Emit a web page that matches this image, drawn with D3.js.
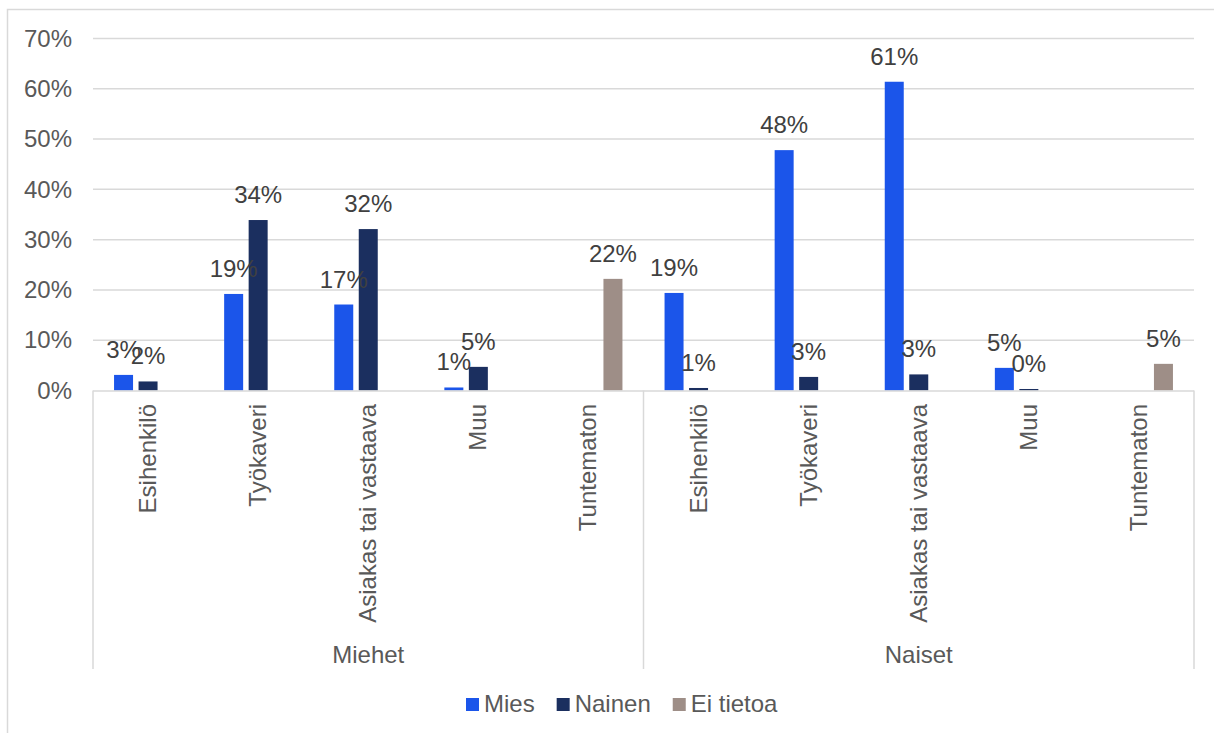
<!DOCTYPE html>
<html><head><meta charset="utf-8">
<script src="https://cdn.jsdelivr.net/npm/d3@7"></script>
<style>body{margin:0;background:#fff}svg{display:block;font-family:"Liberation Sans",Arial,sans-serif}</style>
</head><body><svg id="c" width="1214" height="733"></svg>
<script>
const groups = ["Miehet", "Naiset"];
const categories = ["Esihenkilö", "Työkaveri", "Asiakas tai vastaava", "Muu", "Tuntematon"];
const series = ["Mies", "Nainen", "Ei tietoa"];
const colors = ["#1B55EA", "#1B2F5F", "#9E8E87"];
// values in %, per group, per category (null = no bar)
const miehetMies    = [3.1, 19.2, 17.1, 0.6, null];
const miehetNainen  = [1.8, 33.9, 32.1, 4.7, null];
const miehetEiTietoa= [null, null, null, null, 22.2];
const naisetMies    = [19.4, 47.8, 61.4, 4.5, null];
const naisetNainen  = [0.5, 2.7, 3.2, 0.3, null];
const naisetEiTietoa= [null, null, null, null, 5.3];
const yTicks = [0, 10, 20, 30, 40, 50, 60, 70];

const valueTable = {
  "Miehet": [miehetMies, miehetNainen, miehetEiTietoa],
  "Naiset": [naisetMies, naisetNainen, naisetEiTietoa]
};

const svg = d3.select("#c");
const L = 93, R = 1194, T = 38.5, B = 390.5;
const axisColor = "#d9d9d9";

// outer chart border
svg.append("rect").attr("x", 7.5).attr("y", 9.5).attr("width", 1230).attr("height", 760)
  .attr("fill", "none").attr("stroke", axisColor).attr("stroke-width", 1.5);

const slots = [];
groups.forEach(g => categories.forEach((c, i) => slots.push({g, c, i, key: g + "|" + c})));

const x0 = d3.scaleBand().domain(slots.map(d => d.key)).range([L, R]).paddingInner(0).paddingOuter(0);
const x1 = d3.scaleBand().domain(series).range([-36.75, 36.75]).paddingInner(0.2245).paddingOuter(0.11225);
const y = d3.scaleLinear().domain([0, 70]).range([B, T]);

// gridlines
svg.append("g").selectAll("line").data(yTicks.filter(t => t > 0)).join("line")
  .attr("x1", L).attr("x2", R).attr("y1", d => y(d)).attr("y2", d => y(d))
  .attr("stroke", axisColor).attr("stroke-width", 1.5);

// y axis labels
const yAxis = d3.axisLeft(y).tickValues(yTicks).tickFormat(d => d + "%").tickSize(0).tickPadding(21);
const yg = svg.append("g").attr("transform", `translate(${L},0)`).call(yAxis);
yg.select(".domain").remove();
yg.selectAll("text").attr("font-size", 24).attr("fill", "#595959").attr("font-family", "Liberation Sans, Arial, sans-serif");

// bars
const barData = [];
slots.forEach(s => series.forEach((ser, si) => {
  const v = valueTable[s.g][si][s.i];
  if (v !== null) barData.push({slot: s, ser, si, v});
}));
const cx = d => x0(d.slot.key) + x0.bandwidth() / 2;
svg.append("g").selectAll("rect").data(barData).join("rect")
  .attr("x", d => cx(d) + x1(d.ser))
  .attr("width", x1.bandwidth())
  .attr("y", d => y(d.v))
  .attr("height", d => y(0) - y(d.v))
  .attr("fill", d => colors[d.si]);

// data labels
svg.append("g").selectAll("text").data(barData).join("text")
  .attr("x", d => cx(d) + x1(d.ser) + x1.bandwidth() / 2)
  .attr("y", d => y(d.v) - 17)
  .attr("text-anchor", "middle").attr("font-size", 24).attr("fill", "#404040")
  .text(d => Math.round(d.v) + "%");

// category axis lines
const axisG = svg.append("g");
axisG.append("line").attr("x1", L).attr("x2", R).attr("y1", B + 0.5).attr("y2", B + 0.5)
  .attr("stroke", axisColor).attr("stroke-width", 1.5);
const dividers = [L, x0(slots[5].key), R];
axisG.selectAll("line.div").data(dividers).join("line").attr("class", "div")
  .attr("x1", d => d).attr("x2", d => d).attr("y1", B).attr("y2", 669)
  .attr("stroke", axisColor).attr("stroke-width", 1.5);

// category labels (rotated)
svg.append("g").selectAll("text").data(slots).join("text")
  .attr("transform", d => `translate(${x0(d.key) + x0.bandwidth() / 2 + 8},404) rotate(-90)`)
  .attr("text-anchor", "end").attr("font-size", 24).attr("fill", "#595959")
  .text(d => d.c);

// group labels
svg.append("g").selectAll("text").data(groups).join("text")
  .attr("x", (g, i) => (dividers[i] + dividers[i + 1]) / 2)
  .attr("y", 663).attr("text-anchor", "middle").attr("font-size", 24).attr("fill", "#595959")
  .text(g => g);

// legend
const lg = svg.append("g");
let lx = 466;
series.forEach((s, i) => {
  lg.append("rect").attr("x", lx).attr("y", 698).attr("width", 13).attr("height", 13).attr("fill", colors[i]);
  const t = lg.append("text").attr("x", lx + 18).attr("y", 712).attr("font-size", 24).attr("fill", "#595959").text(s);
  lx = lx + 18 + t.node().getComputedTextLength() + 22;
});
</script></body></html>
